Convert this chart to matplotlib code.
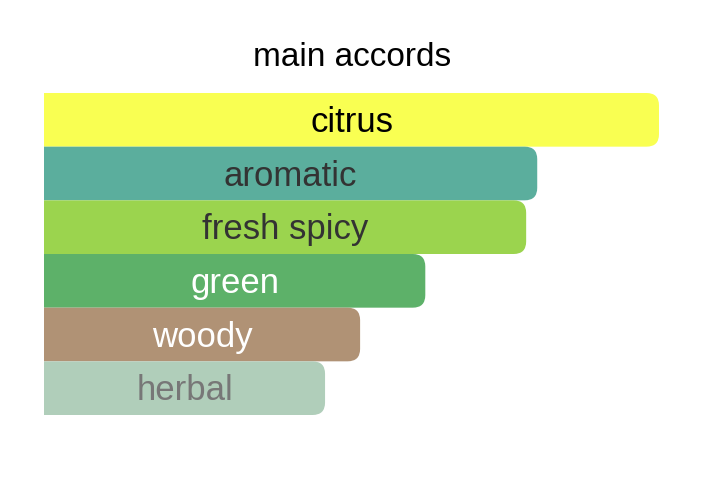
import matplotlib.pyplot as plt
from matplotlib.patches import FancyBboxPatch

plt.rcParams['font.family'] = ['Liberation Sans', 'DejaVu Sans']

accords = ["citrus", "aromatic", "fresh spicy", "green", "woody", "herbal"]
strength = [100, 80.2, 78.4, 62.0, 51.4, 45.7]
bar_colors = ["#F9FF52", "#5BAE9D", "#9BD44E", "#5DB169", "#B09275", "#B0CEBA"]
text_colors = ["#000000", "#333333", "#333333", "#FFFFFF", "#FFFFFF", "#777777"]

W, H = 717, 504
fig = plt.figure(figsize=(W / 100, H / 100), dpi=100)
# axes box in pixels: left 44, right 659, top 93, bottom 415
ax = fig.add_axes([44 / W, (H - 415) / H, 615 / W, 322 / H])
ax.set_xlim(0, 100)
ax.set_ylim(len(accords), 0)
ax.axis("off")

px_x = 615 / 100          # pixels per x unit
px_y = 322 / len(accords)  # pixels per bar
r_px = 12.5
rx = r_px / px_x
ry = r_px / px_y

for i, (name, val) in enumerate(zip(accords, strength)):
    # start left of the axes so the left rounded corners get clipped away
    box = FancyBboxPatch((-2 * rx, i), val + 2 * rx, 1,
                         boxstyle=f"round,pad=0,rounding_size={rx}",
                         mutation_aspect=ry / rx,
                         facecolor=bar_colors[i], edgecolor="none")
    ax.add_patch(box)
    ax.text(val / 2, i + 0.55, name, ha="center", va="center",
            fontsize=25, color=text_colors[i])

fig.text(352 / W, 1 - 57 / H, "main accords", ha="center", va="center",
         fontsize=24, color="#000000")

fig.savefig("out.png", dpi=100)
